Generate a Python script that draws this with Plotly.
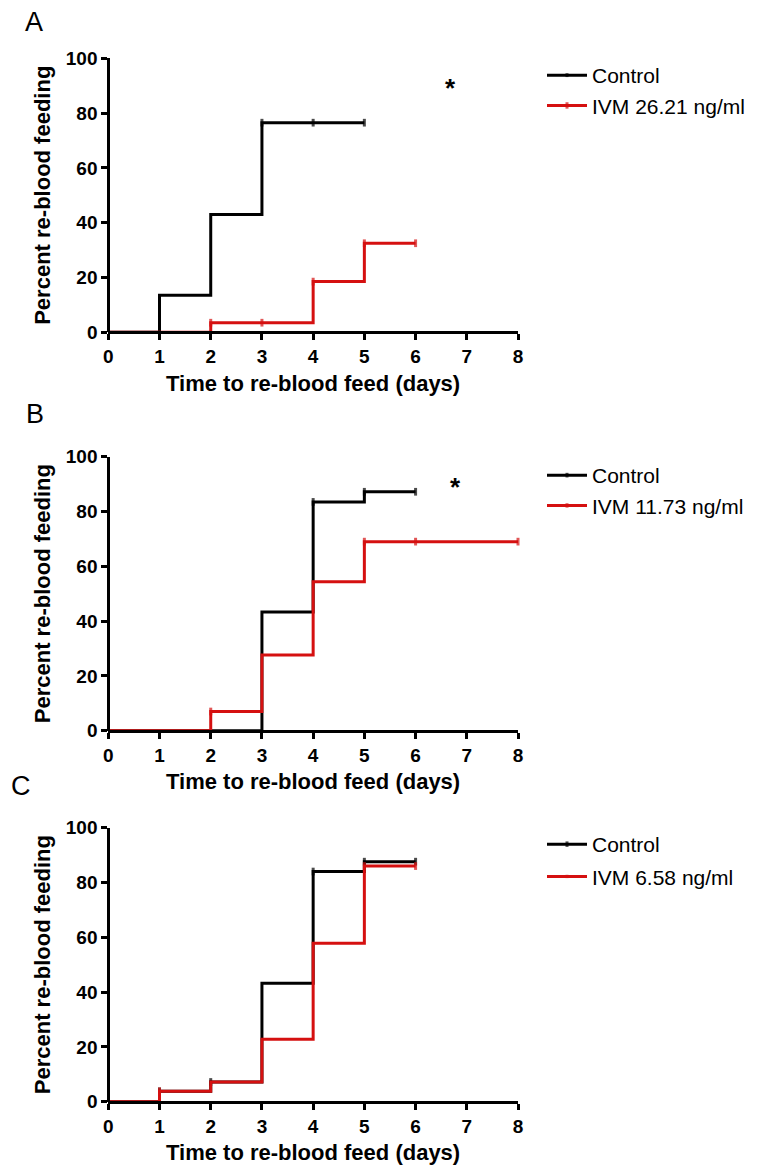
import plotly.graph_objects as go

# ---------------- data ----------------
panel_letters = ["A", "B", "C"]
ivm_labels = ["IVM 26.21 ng/ml", "IVM 11.73 ng/ml", "IVM 6.58 ng/ml"]
ctrl_label = "Control"

# Panel A
ctrlA_days = [0, 1, 2, 3, 4, 5]
ctrlA_pct = [0, 13.5, 43, 76.5, 76.5, 76.5]
ctrlA_cens = [0, 0, 0, 1, 1, 1]
ivmA_days = [0, 2, 3, 4, 5, 6]
ivmA_pct = [0, 3.5, 3.5, 18.5, 32.5, 32.5]
ivmA_cens = [0, 1, 1, 1, 1, 1]

# Panel B
ctrlB_days = [0, 3, 4, 5, 6]
ctrlB_pct = [0, 43.3, 83.5, 87.2, 87.2]
ctrlB_cens = [0, 0, 1, 1, 1]
ivmB_days = [0, 2, 3, 4, 5, 6, 8]
ivmB_pct = [0, 7, 27.6, 54.4, 69, 69, 69]
ivmB_cens = [0, 1, 0, 0, 1, 1, 1]

# Panel C
ctrlC_days = [0, 1, 2, 3, 4, 5, 6]
ctrlC_pct = [0, 3.8, 7.2, 43.2, 84, 87.6, 87.6]
ctrlC_cens = [0, 1, 1, 0, 1, 1, 1]
ivmC_days = [0, 1, 2, 3, 4, 5, 6]
ivmC_pct = [0, 3.8, 7.2, 22.8, 57.8, 86, 86]
ivmC_cens = [0, 1, 0, 0, 0, 1, 1]

# significance markers (panel index, x, y)
star_panels = [0, 1]
star_x = [6.68, 6.78]
star_y = [89.2, 88.9]

x_ticks = [0, 1, 2, 3, 4, 5, 6, 7, 8]
y_ticks = [0, 20, 40, 60, 80, 100]
x_title = "Time to re-blood feed (days)"
y_title = "Percent re-blood feeding"

panels = [
    (ctrlA_days, ctrlA_pct, ctrlA_cens, ivmA_days, ivmA_pct, ivmA_cens),
    (ctrlB_days, ctrlB_pct, ctrlB_cens, ivmB_days, ivmB_pct, ivmB_cens),
    (ctrlC_days, ctrlC_pct, ctrlC_cens, ivmC_days, ivmC_pct, ivmC_cens),
]

# ---------------- layout geometry ----------------
W, H = 760, 1169
x_left, x_right = 108.3, 518.0
y_tops = [58.3, 456.7, 827.7]
y_bots = [332.3, 730.7, 1101.7]
letter_pos = [(34, 22), (35, 414), (21, 786)]
legend_tops = [55, 455, 824]
legend_gaps = [0, 0, 2]

BLACK = "#000000"
RED = "#d51010"
FAM = "Liberation Sans, Arial, sans-serif"
TICKFONT = dict(family=FAM, size=19, color="black", weight="bold")
TITLEFONT = dict(family=FAM, size=22, color="black", weight="bold")
LEGFONT = dict(family=FAM, size=21, color="black")

fig = go.Figure()
annotations = []

for i, (cd, cp, cc, idd, ip, ic) in enumerate(panels):
    sfx = "" if i == 0 else str(i + 1)
    xa, ya = "x" + sfx, "y" + sfx
    leg = "legend" + sfx
    for k, (days, pct, cens, color, name) in enumerate([
        (cd, cp, cc, BLACK, ctrl_label),
        (idd, ip, ic, RED, ivm_labels[i]),
    ]):
        fig.add_trace(go.Scatter(
            x=days, y=pct, name=name, mode="lines+markers",
            line=dict(color=color, width=3, shape="hv"),
            marker=dict(symbol="line-ns", size=[c * 5.5 for c in cens],
                        color=color, line=dict(color=color, width=3)),
            xaxis=xa, yaxis=ya, legend=leg, legendgroup=f"g{i}{k}",
            cliponaxis=False,
        ))

    dom_y = [1 - y_bots[i] / H, 1 - y_tops[i] / H]
    axis_common = dict(
        showline=True, linewidth=3, linecolor="black",
        ticks="outside", ticklen=6, tickwidth=3, tickcolor="black",
        showgrid=False, zeroline=False, tickfont=TICKFONT, fixedrange=True,
        automargin=False, layer="above traces", anchor="free",
    )
    # free axes: the axis line is centred on the zero of the other axis
    fig.layout["xaxis" + sfx] = dict(
        domain=[x_left / W, x_right / W], range=[0, 8],
        position=dom_y[0], side="bottom",
        tickvals=x_ticks, ticktext=[str(v) for v in x_ticks], **axis_common)
    fig.layout["yaxis" + sfx] = dict(
        domain=dom_y, range=[0, 100],
        position=x_left / W, side="left",
        tickvals=y_ticks, ticktext=[str(v) for v in y_ticks], **axis_common)

    fig.layout[leg] = dict(
        x=542 / W, y=1 - legend_tops[i] / H, xanchor="left", yanchor="top",
        font=LEGFONT, bgcolor="rgba(0,0,0,0)", borderwidth=0,
        itemwidth=40, tracegroupgap=legend_gaps[i], traceorder="grouped",
    )

    # axis titles
    annotations.append(dict(
        text=x_title, xref="paper", yref="paper",
        x=(x_left + x_right) / 2 / W, y=1 - (y_bots[i] + 51) / H,
        xanchor="center", yanchor="middle", showarrow=False, font=TITLEFONT))
    annotations.append(dict(
        text=y_title, xref="paper", yref="paper", textangle=-90,
        x=42.5 / W, y=1 - (y_tops[i] + y_bots[i]) / 2 / H,
        xanchor="center", yanchor="middle", showarrow=False, font=TITLEFONT))
    # panel letter
    lx, ly = letter_pos[i]
    annotations.append(dict(
        text=panel_letters[i], xref="paper", yref="paper",
        x=lx / W, y=1 - ly / H, xanchor="center", yanchor="middle",
        showarrow=False, font=dict(family=FAM, size=27, color="black")))

for p, sx, sy in zip(star_panels, star_x, star_y):
    sfx = "" if p == 0 else str(p + 1)
    annotations.append(dict(
        text="*", xref="x" + sfx, yref="y" + sfx, x=sx, y=sy,
        xanchor="center", yanchor="middle", showarrow=False,
        font=dict(family=FAM, size=26, color="black", weight="bold")))

fig.update_layout(
    width=W, height=H,
    margin=dict(l=0, r=0, t=0, b=0, pad=0, autoexpand=False),
    paper_bgcolor="white", plot_bgcolor="white",
    showlegend=True, annotations=annotations,
)

fig.write_html("out.html")
